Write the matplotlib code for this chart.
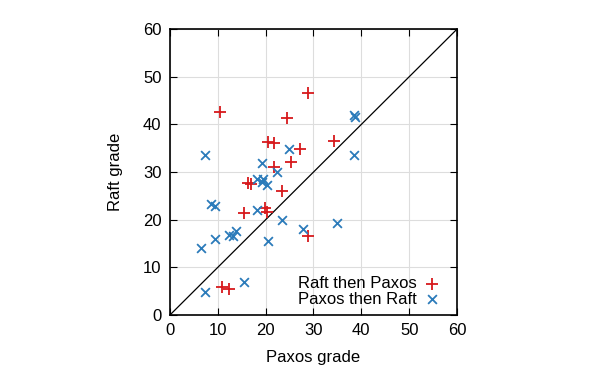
import matplotlib
matplotlib.use("Agg")
import matplotlib.pyplot as plt

plt.rcParams['font.family'] = ['Liberation Sans', 'DejaVu Sans']

# Raft then Paxos (red +)
raft_first_paxos = [10.4, 28.9, 24.4, 20.4, 21.8, 27.2, 25.3, 21.8, 16.4, 16.9,
                    23.4, 15.5, 19.9, 20.3, 28.9, 10.9, 12.4, 34.3]
raft_first_raft = [42.5, 46.5, 41.4, 36.2, 36.0, 34.9, 32.1, 31.0, 27.8, 27.4,
                   26.0, 21.5, 22.5, 21.7, 16.6, 5.9, 5.4, 36.5]

# Paxos then Raft (blue x)
paxos_first_paxos = [7.3, 24.9, 19.3, 22.4, 18.3, 19.5, 19.2, 20.2, 8.5, 9.4,
                     18.3, 23.4, 27.9, 13.8, 12.4, 13.2, 9.4, 20.4, 6.4, 15.5,
                     7.3, 38.4, 38.6, 38.4, 34.9]
paxos_first_raft = [33.5, 34.9, 32.0, 30.1, 28.5, 28.5, 27.9, 27.3, 23.4, 22.9,
                    22.0, 19.9, 18.0, 17.7, 16.7, 16.6, 15.9, 15.6, 14.0, 7.0,
                    4.9, 42.0, 41.5, 33.5, 19.4]

ticks = [0, 10, 20, 30, 40, 50, 60]

fig = plt.figure(figsize=(5.96, 3.72), dpi=100)
ax = fig.add_axes([0.285, 0.153, 0.482, 0.769])

ax.plot([0, 60], [0, 60], color='black', linewidth=0.9, zorder=2)
ax.scatter(raft_first_paxos, raft_first_raft, marker='+', s=85, color='#d7191c',
           linewidths=1.3, label='Raft then Paxos', zorder=3)
ax.scatter(paxos_first_paxos, paxos_first_raft, marker='x', s=40, color='#2b7bba',
           linewidths=1.3, label='Paxos then Raft', zorder=3)

ax.set_xlim(0, 60)
ax.set_ylim(0, 60)
ax.set_xticks(ticks)
ax.set_yticks(ticks)
ax.grid(True, color='#dddddd', linewidth=0.8)
ax.set_axisbelow(True)
ax.tick_params(direction='in', top=True, right=True, labelsize=12, length=5, pad=6)
for s in ax.spines.values():
    s.set_linewidth(1.2)

ax.set_xlabel('Paxos grade', fontsize=12, labelpad=8)
ax.set_ylabel('Raft grade', fontsize=12, labelpad=14)

ax.legend(loc='lower right', bbox_to_anchor=(0.97, 0.0), markerfirst=False,
          frameon=False, fontsize=12, handletextpad=0.4, borderaxespad=0.1,
          labelspacing=0.05, handlelength=1.0)

fig.savefig('out.png', dpi=100)
